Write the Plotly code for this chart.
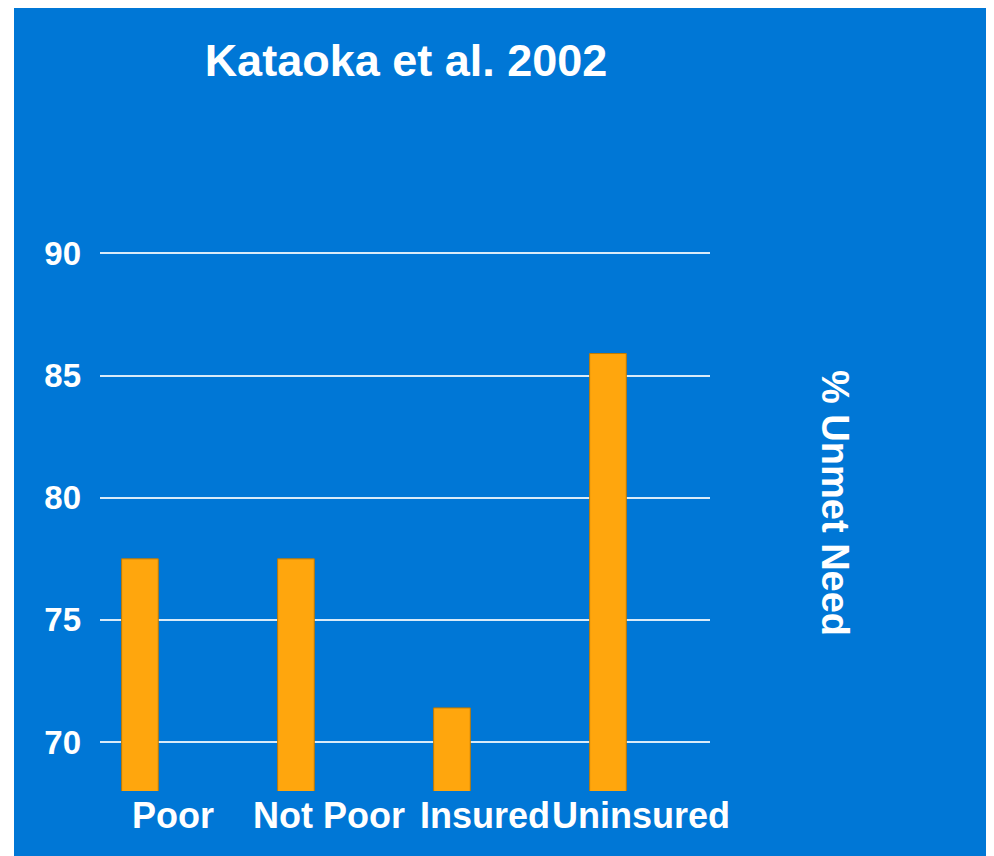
import plotly.graph_objects as go

categories = ["Poor", "Not Poor", "Insured", "Uninsured"]
unmet_need = [77.5, 77.5, 71.4, 85.9]
y_ticks = [70, 75, 80, 85, 90]

BLUE = "#0077D6"
ORANGE = "#FFA60D"
FONT = "Liberation Sans, Arial, sans-serif"

fig = go.Figure()
fig.add_trace(go.Bar(
    x=categories, y=unmet_need,
    width=0.235,
    marker=dict(color=ORANGE, line=dict(color="#C07A00", width=1)),
    hoverinfo="x+y",
))

W, H = 994, 856
ml, mr, mt, mb = 92, 292, 238, 73
pw, ph = W - ml - mr, H - mt - mb

# blue background panel (thin white strip at left/top like the reference)
fig.add_shape(type="rect", xref="paper", yref="paper",
              x0=(6 - ml) / pw, x1=(W - ml) / pw,
              y0=-mb / ph, y1=(H - mb) / ph,
              fillcolor=BLUE, line=dict(width=0), layer="below")

# category labels (offset to the right of bars, as in the reference)
for i, c in enumerate(categories):
    fig.add_annotation(x=i + 0.21, y=0, xref="x", yref="paper", yshift=-24,
                       text=c, showarrow=False, yanchor="middle", xanchor="center",
                       font=dict(family=FONT, size=36, color="white", weight="bold"))

fig.add_annotation(x=(827 - ml) / pw, y=(H - mb - 495) / ph, xref="paper", yref="paper",
                   text="% Unmet Need", textangle=90, showarrow=False,
                   xanchor="center", yanchor="middle",
                   font=dict(family=FONT, size=38, color="white", weight="bold"))

fig.update_layout(
    width=W, height=H,
    margin=dict(l=ml, r=mr, t=mt, b=mb),
    paper_bgcolor="white",
    plot_bgcolor="rgba(0,0,0,0)",
    showlegend=False,
    bargap=0.76,
    title=dict(text="Kataoka et al. 2002", x=398 / W, xanchor="center",
               y=1 - 52 / H, yanchor="middle",
               font=dict(family=FONT, size=45, color="white", weight="bold")),
    xaxis=dict(range=[-0.256, 3.654], showticklabels=False, showgrid=False,
               zeroline=False, showline=False, ticks=""),
    yaxis=dict(range=[68, 90.3], tickvals=y_ticks, showgrid=True,
               gridcolor="rgba(255,255,255,0.85)", gridwidth=2,
               zeroline=False, showline=False, ticks="",
               ticklabelstandoff=18,
               tickfont=dict(family=FONT, size=33, color="white", weight="bold")),
)

fig.write_html("out.html")
